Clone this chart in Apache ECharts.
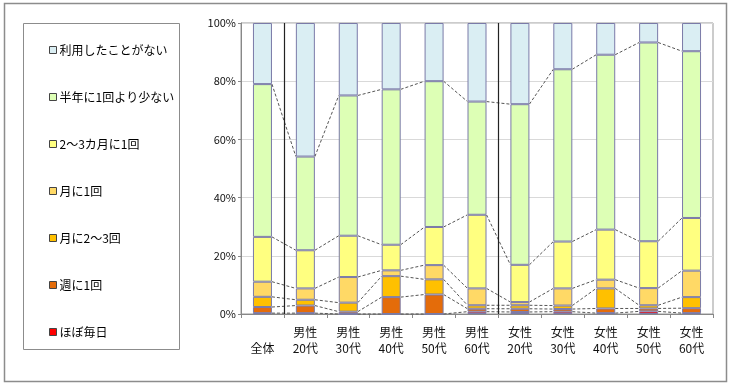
<!DOCTYPE html>
<html>
<head>
<meta charset="utf-8">
<script src="https://cdn.jsdelivr.net/npm/echarts@6/dist/echarts.min.js"></script>
<style>
html,body{margin:0;padding:0;background:#fff;}
#chart{width:730px;height:386px;}
</style>
</head>
<body>
<div id="chart"></div>
<script>
// Categories (line breaks as in the reference)
const categories = ['\n全体', '男性\n20代', '男性\n30代', '男性\n40代', '男性\n50代', '男性\n60代',
  '女性\n20代', '女性\n30代', '女性\n40代', '女性\n50代', '女性\n60代'];

// Series (percent), bottom to top
const hobo     = [0.3, 0.3, 0.0, 0.0, 0.0, 0.8, 0.7, 0.8, 0.3, 0.9, 0.3];   // ほぼ毎日
const shu1     = [2.1, 2.6, 0.8, 5.8, 6.7, 1.0, 1.1, 0.9, 1.6, 1.0, 1.7];   // 週に1回
const tsuki23  = [3.5, 2.0, 3.1, 7.2, 5.2, 1.2, 1.2, 1.2, 6.9, 1.1, 3.8];   // 月に2～3回
const tsuki1   = [5.2, 3.9, 8.8, 2.0, 4.9, 5.8, 1.1, 5.9, 3.0, 5.9, 9.1];   // 月に1回
const kagetsu  = [15.4, 13.1, 14.2, 8.8, 13.1, 25.3, 12.8, 16.1, 17.2, 16.1, 18.1]; // 2～3カ月に1回
const hantoshi = [52.5, 32.2, 48.2, 53.4, 50.1, 38.9, 55.2, 59.2, 60.1, 68.3, 57.3]; // 半年に1回より少ない
const nashi    = [21.0, 45.9, 24.9, 22.8, 20.0, 27.0, 27.9, 15.9, 10.9, 6.7, 9.7];  // 利用したことがない

const seriesNames = ['ほぼ毎日', '週に1回', '月に2～3回', '月に1回', '2～3カ月に1回', '半年に1回より少ない', '利用したことがない'];
const seriesData = [hobo, shu1, tsuki23, tsuki1, kagetsu, hantoshi, nashi];
const seriesColors = ['#FF0000', '#E46C0A', '#FFC000', '#FFD966', '#FFFF80', '#DDFFB5', '#DAEEF3'];

const yTicks = [0, 20, 40, 60, 80, 100];
const separatorsAfter = [0, 5]; // vertical group separators after these category indices

const FONT = '"Noto Sans CJK JP", "Noto Sans", sans-serif';
const BAR_W = 19;

// cumulative tops for the connecting series lines
const cum = [];
(function () {
  const run = new Array(categories.length).fill(0);
  for (let s = 0; s < seriesData.length - 1; s++) {
    for (let i = 0; i < categories.length; i++) run[i] += seriesData[s][i];
    cum.push(run.slice());
  }
})();

const chart = echarts.init(document.getElementById('chart'), null, {renderer: 'canvas'});

const barSeries = seriesNames.map((name, s) => ({
  name: name,
  type: 'bar',
  stack: 'total',
  barWidth: BAR_W,
  data: seriesData[s],
  itemStyle: {color: seriesColors[s], borderColor: '#7A7AA8', borderWidth: 1},
  emphasis: {disabled: true},
  z: 2
}));

const linesSeries = {
  type: 'custom',
  name: 'lines',
  data: [[0, 0]],
  silent: true,
  z: 3,
  renderItem: function (params, api) {
    const children = [];
    const half = BAR_W / 2;
    for (let l = 0; l < cum.length; l++) {
      for (let i = 0; i < categories.length - 1; i++) {
        const p1 = api.coord([i, cum[l][i]]);
        const p2 = api.coord([i + 1, cum[l][i + 1]]);
        children.push({
          type: 'line',
          shape: {x1: p1[0] + half, y1: p1[1], x2: p2[0] - half, y2: p2[1]},
          style: {stroke: '#555', lineWidth: 1, lineDash: [3, 2]}
        });
      }
    }
    separatorsAfter.forEach(function (i) {
      const a = api.coord([i, 0]);
      const b = api.coord([i + 1, 100]);
      const x = Math.round((a[0] + b[0]) / 2) + 0.5;
      children.push({
        type: 'line',
        shape: {x1: x, y1: a[1], x2: x, y2: b[1]},
        style: {stroke: '#222', lineWidth: 1.2}
      });
    });
    return {type: 'group', children: children};
  }
};

const option = {
  animation: false,
  backgroundColor: '#fff',
  textStyle: {fontFamily: FONT},
  grid: {left: 241, top: 23, right: 17, bottom: 72, show: true, borderColor: '#999', borderWidth: 1},
  legend: {
    data: seriesNames.slice().reverse(),
    orient: 'vertical',
    left: 44,
    top: 38,
    itemWidth: 7,
    itemHeight: 7,
    itemGap: 33,
    icon: 'rect',
    itemStyle: {borderColor: '#444', borderWidth: 1},
    textStyle: {fontSize: 12, color: '#000', fontFamily: FONT, lineHeight: 14, padding: [0, 0, 0, -2]},
    selectedMode: false
  },
  xAxis: {
    type: 'category',
    data: categories,
    axisLine: {lineStyle: {color: '#888'}},
    axisTick: {show: true, length: 4, lineStyle: {color: '#888'}},
    axisLabel: {fontSize: 12, color: '#111', lineHeight: 16, margin: 10, interval: 0, fontFamily: FONT}
  },
  yAxis: {
    type: 'value',
    min: 0,
    max: 100,
    interval: 20,
    axisLine: {show: true, lineStyle: {color: '#888'}},
    axisTick: {show: true, length: 3, lineStyle: {color: '#888'}},
    axisLabel: {fontSize: 11, color: '#111', margin: 5, formatter: function (v) { return yTicks.indexOf(v) >= 0 ? v + '%' : ''; }, fontFamily: FONT},
    splitLine: {lineStyle: {color: '#D9D9D9'}}
  },
  graphic: [
    {type: 'rect', shape: {x: 4.5, y: 3.5, width: 722, height: 378}, style: {fill: 'none', stroke: '#8C8C8C', lineWidth: 1.5}, silent: true, z: -1},
    {type: 'rect', shape: {x: 23.5, y: 23.5, width: 156, height: 326}, style: {fill: 'none', stroke: '#8C8C8C', lineWidth: 1}, silent: true}
  ],
  series: barSeries.concat([linesSeries])
};

chart.setOption(option);
</script>
</body>
</html>
